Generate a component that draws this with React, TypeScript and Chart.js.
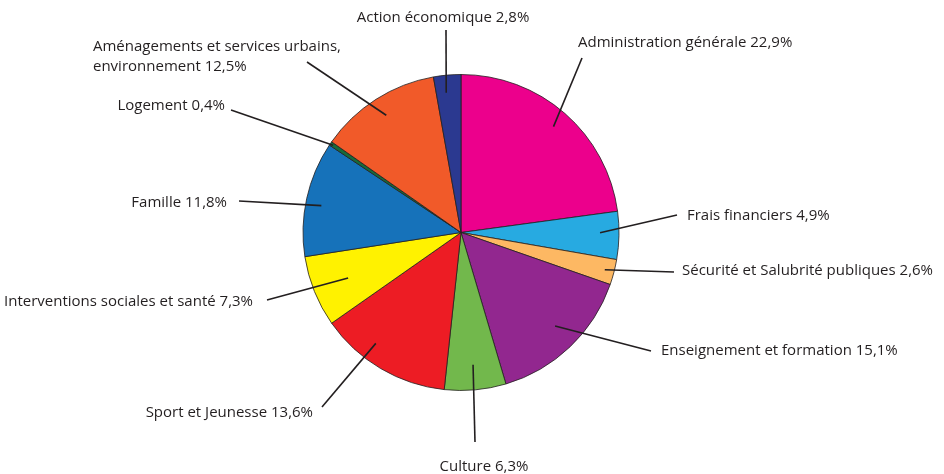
import React, { useEffect, useRef } from "react";
import { Chart, registerables } from "chart.js";

Chart.register(...registerables);

const categories = [
  "Administration générale",
  "Frais financiers",
  "Sécurité et Salubrité publiques",
  "Enseignement et formation",
  "Culture",
  "Sport et Jeunesse",
  "Interventions sociales et santé",
  "Famille",
  "Logement",
  "Aménagements et services urbains, environnement",
  "Action économique",
];

const shares = [22.9, 4.9, 2.6, 15.1, 6.3, 13.6, 7.3, 11.8, 0.4, 12.5, 2.8];

const labelTexts = [
  ["Administration générale 22,9%"],
  ["Frais financiers 4,9%"],
  ["Sécurité et Salubrité publiques 2,6%"],
  ["Enseignement et formation 15,1%"],
  ["Culture 6,3%"],
  ["Sport et Jeunesse 13,6%"],
  ["Interventions sociales et santé 7,3%"],
  ["Famille 11,8%"],
  ["Logement 0,4%"],
  ["Aménagements et services urbains,", "environnement 12,5%"],
  ["Action économique 2,8%"],
];

const colors = [
  "#EC008C",
  "#27AAE1",
  "#FDB863",
  "#92278F",
  "#72B84C",
  "#ED1C24",
  "#FFF200",
  "#1672BA",
  "#176B3A",
  "#F15A29",
  "#2B3990",
];

// Layout: text anchor, alignment, leader line outer end, leader inner radius fraction, angle tweak (deg)
const labelLayout = [
  { x: 578, y: 43, align: "left", ex: 582, ey: 58, rf: 0.89, da: 0 },
  { x: 687, y: 216, align: "left", ex: 677, ey: 215, rf: 0.88, da: -1 },
  { x: 682, y: 271, align: "left", ex: 674, ey: 272, rf: 0.94, da: 0 },
  { x: 661, y: 351, align: "left", ex: 651, ey: 351, rf: 0.84, da: -1.5 },
  { x: 484, y: 467, align: "center", ex: 475, ey: 442, rf: 0.84, da: 0 },
  { x: 313, y: 413, align: "right", ex: 322, ey: 407, rf: 0.885, da: 7 },
  { x: 253, y: 302, align: "right", ex: 267, ey: 300, rf: 0.77, da: 0 },
  { x: 227, y: 203, align: "right", ex: 239, ey: 201, rf: 0.9, da: -1.5 },
  { x: 225, y: 106, align: "right", ex: 231, ey: 110, rf: 0.98, da: 0 },
  { x: 93, y: 47, align: "left", ex: 307, ey: 62, rf: 0.88, da: 0, lh: 20 },
  { x: 443, y: 18, align: "center", ex: 446, ey: 30, rf: 0.89, da: -1 },
];

const FONT = '15px "Open Sans", sans-serif';

const leaderPlugin = {
  id: "leaders",
  afterDatasetsDraw(chart: any) {
    const ctx = chart.ctx;
    const meta = chart.getDatasetMeta(0);
    ctx.save();
    meta.data.forEach((arc: any, i: number) => {
      const L: any = labelLayout[i];
      if (!L) return;
      const { x, y, startAngle, endAngle, outerRadius } = arc.getProps(
        ["x", "y", "startAngle", "endAngle", "outerRadius"],
        true
      );
      const mid = (startAngle + endAngle) / 2 + (L.da * Math.PI) / 180;
      const sx = x + Math.cos(mid) * outerRadius * L.rf;
      const sy = y + Math.sin(mid) * outerRadius * L.rf;
      ctx.beginPath();
      ctx.strokeStyle = "#231F20";
      ctx.lineWidth = 1.6;
      ctx.moveTo(sx, sy);
      ctx.lineTo(L.ex, L.ey);
      ctx.stroke();
      ctx.fillStyle = "#231F20";
      ctx.font = FONT;
      ctx.textAlign = L.align;
      ctx.textBaseline = "middle";
      const lines = labelTexts[i];
      lines.forEach((t, k) => {
        ctx.fillText(t, L.x, L.y + k * (L.lh || 20));
      });
    });
    ctx.restore();
  },
};

export default function App() {
  const ref = useRef<HTMLCanvasElement | null>(null);
  useEffect(() => {
    if (!ref.current) return;
    const chart = new Chart(ref.current, {
      type: "pie",
      data: {
        labels: categories,
        datasets: [
          {
            data: shares,
            backgroundColor: colors,
            borderColor: "#231F20",
            borderWidth: 0.8,
          },
        ],
      },
      options: {
        animation: false,
        responsive: true,
        maintainAspectRatio: false,
        radius: 158,
        layout: { padding: { left: 0, right: 22, top: 74, bottom: 83 } },
        plugins: {
          legend: { display: false },
          tooltip: { enabled: false },
        },
      } as any,
      plugins: [leaderPlugin],
    });
    return () => chart.destroy();
  }, []);
  return (
    <div style={{ position: "fixed", left: 0, top: 0, width: 944, height: 474, background: "#fff" }}>
      <canvas ref={ref} />
    </div>
  );
}
